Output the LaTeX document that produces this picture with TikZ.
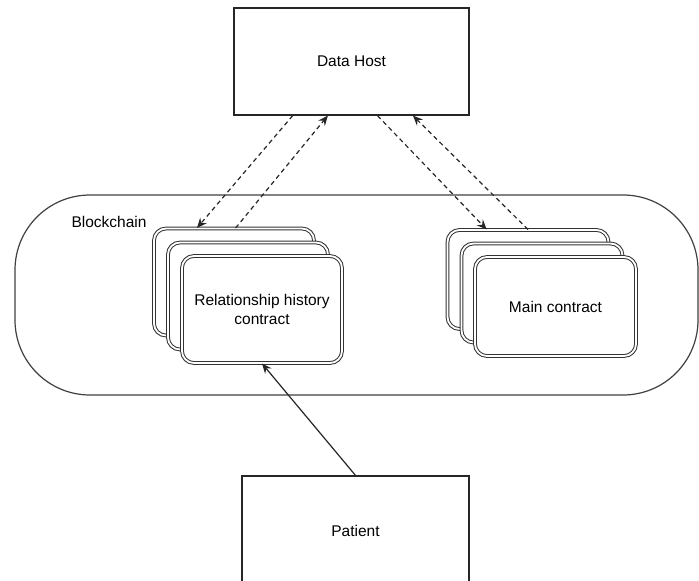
\documentclass[tikz,border=0pt]{standalone}
\usepackage{fontspec}
\setmainfont{Liberation Sans}
\usetikzlibrary{arrows.meta,calc}

\tikzset{
  lbl/.style={font=\fontsize{15.5}{18.5}\selectfont, align=center},
  plainbox/.style={draw=black!85, line width=1.2pt, fill=white, inner sep=0pt, lbl},
  chain/.style={draw=black!75, line width=1.2pt, fill=white, rounded corners=75pt,
    minimum width=683pt, minimum height=200pt, inner sep=0pt},
  contract/.style={draw=black!80, line width=1pt, double=white, double distance=1.8pt,
    fill=white, rounded corners=12pt, inner sep=0pt, lbl},
  flow/.style={draw=black!85, line width=1.2pt, dash pattern=on 4.5pt off 3.5pt,
    -{Stealth[length=10pt,width=8.5pt,inset=3.5pt]}},
  solidflow/.style={draw=black!85, line width=1.2pt,
    -{Stealth[length=10pt,width=8.5pt,inset=3.5pt]}}
}

\begin{document}
\begin{tikzpicture}[x=1pt,y=-1pt]
  \useasboundingbox (0,0) rectangle (699,581);

  % blockchain container
  \node[chain] (chain) at (356.5,295) {};
  \node[lbl] (chainlbl) at (109,222) {Blockchain};

  % relationship history contracts (stacked)
  \node[contract, minimum width=160pt, minimum height=107pt] (rel1) at (234,282) {};
  \node[contract, minimum width=160pt, minimum height=107pt] (rel2) at (248,296) {};
  \node[contract, minimum width=160pt, minimum height=107pt] (rel3) at (262,309.5)
    {Relationship history\\contract};

  % main contracts (stacked)
  \node[contract, minimum width=161pt, minimum height=99pt] (main1) at (528,279.5) {};
  \node[contract, minimum width=161pt, minimum height=99pt] (main2) at (542,293) {};
  \node[contract, minimum width=161pt, minimum height=99pt] (main3) at (555.5,306.5)
    {Main contract};

  % data host and patient
  \node[plainbox, minimum width=235pt, minimum height=107pt] (host) at (351.5,61.5) {Data Host};
  \node[plainbox, minimum width=227pt, minimum height=110pt] (patient) at (355.5,531) {Patient};

  % attachment points on the borders
  \coordinate (hA) at ($(host.south west)!0.251!(host.south east)$);
  \coordinate (hB) at ($(host.south west)!0.40!(host.south east)$);
  \coordinate (hC) at ($(host.south west)!0.61!(host.south east)$);
  \coordinate (hD) at ($(host.south west)!0.76!(host.south east)$);
  \coordinate (rA) at ($(rel1.north west)!0.27!(rel1.north east)$);
  \coordinate (rB) at ($(rel1.north west)!0.51!(rel1.north east)$);
  \coordinate (mA) at ($(main1.north west)!0.245!(main1.north east)$);
  \coordinate (mB) at ($(main1.north west)!0.50!(main1.north east)$);

  % connectors
  \draw[flow] (hA) -- (rA);
  \draw[flow] (rB) -- (hB);
  \draw[flow] (hC) -- (mA);
  \draw[flow] (mB) -- (hD);
  \draw[solidflow] (patient.north) -- (rel3.south);
\end{tikzpicture}
\end{document}
